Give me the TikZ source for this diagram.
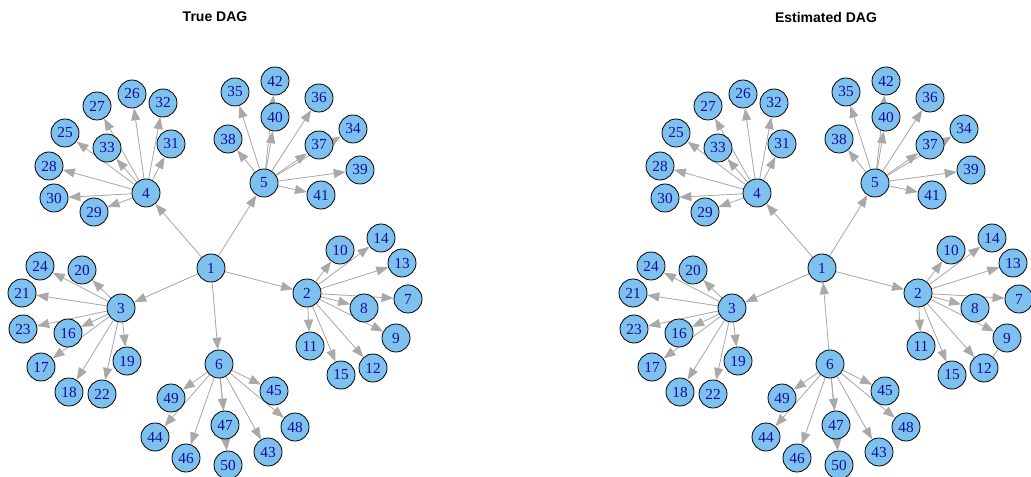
\documentclass[tikz,border=0pt]{standalone}
\usepackage{fontspec}
\setmainfont{Liberation Serif}
\newfontfamily\titlefont{Liberation Sans}
\usetikzlibrary{arrows.meta,backgrounds}
\definecolor{skyblue}{HTML}{7EC0EE}
\definecolor{labelblue}{RGB}{16,16,150}
\definecolor{edgegray}{HTML}{A9A9A9}
\begin{document}
\begin{tikzpicture}[x=0.75pt,y=-0.75pt,>={Triangle[length=9pt,width=6.8pt]},
	vtx/.style={circle,draw=black,fill=skyblue,text=labelblue,minimum size=21pt,inner sep=0pt,line width=0.6pt,font=\fontsize{11.5}{12}\selectfont},
	edge/.style={draw=edgegray,fill=edgegray,line width=0.6pt},
	ttl/.style={font=\titlefont\bfseries\fontsize{10.5}{12}\selectfont}]
	\useasboundingbox (0,0) rectangle (1031,477);
	\node[ttl] (ttrue) at (215,17) {True DAG};
	\node[ttl] (test) at (826,17) {Estimated DAG};
	% same layout for both graphs, shifted
	\def\vlist{1/211/268,2/307/293,3/121/308,4/146/193,5/264/183,6/219/364,7/408/299,8/364/308,9/396/338,10/340/250,11/310/346,12/373/368,13/402/263,14/381/238,15/341/375,16/68/333,17/41/367,18/69/392,19/127/361,20/82/270,21/22/293,22/102/394,23/23/329,24/40/266,25/65/133,26/132/94,27/97/106,28/49/166,29/94/212,30/54/198,31/171/144,32/163/103,33/107/148,34/353/129,35/235/92,36/319/98,37/319/145,38/228/139,39/360/170,40/275/117,41/321/195,42/275/81,43/268/452,44/155/437,45/274/391,46/186/458,47/225/425,48/295/427,49/171/398,50/228/465}
	\foreach \g/\dx in {t/0,e/611}
		\foreach \n/\x/\y in \vlist \node[vtx] (\g\n) at (\x+\dx,\y) {\n};
	\begin{scope}[on background layer]
		\foreach \g in {t,e} \foreach \c in {2,...,5} \draw[edge,->] (\g1)--(\g\c);
		\foreach \p/\lo/\hi in {2/7/15,3/16/24,4/25/33,5/34/42,6/43/50}
			\foreach \c in {\lo,...,\hi} {\draw[edge,->] (t\p)--(t\c); \draw[edge,->] (e\p)--(e\c);}
		\draw[edge,->] (t1)--(t6);
		\draw[edge,->] (e6)--(e1);
		\draw[edge] (e9)--(e12);
	\end{scope}
\end{tikzpicture}
\end{document}
